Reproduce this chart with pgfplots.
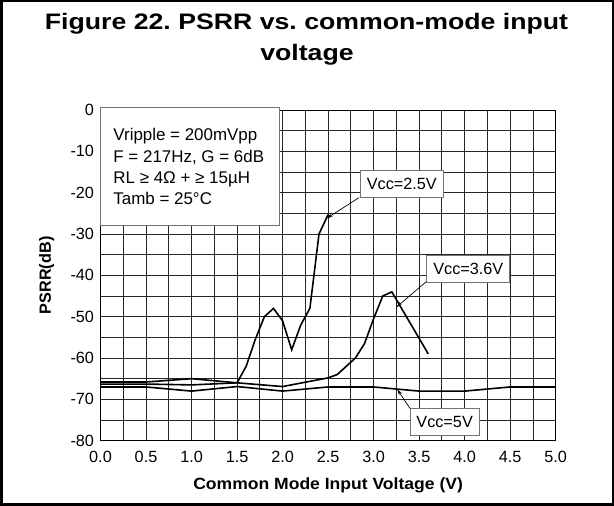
\documentclass[border=0pt]{standalone}
\usepackage{graphicx}
\usepackage{pgfplots}
\pgfplotsset{compat=1.18}
\usepackage{fontspec}
\setmainfont{Liberation Sans}
\usetikzlibrary{arrows.meta}
\frenchspacing
\tikzset{
  ann/.style={draw=black!55, fill=white, line width=0.8bp, font=\fontsize{16.3}{19}\selectfont, inner xsep=6.5bp, minimum height=27bp},
  arr/.style={-{Stealth[length=6bp,width=3.5bp]}, line width=0.7bp, black},
  crv/.style={black, line width=1.6bp, mark=none},
}

\begin{document}
\begin{tikzpicture}
\path (0,0) rectangle (614bp,506bp);
\draw[line width=2bp] (1.5bp,1.5bp) rectangle (612.5bp,504.5bp);
\node[anchor=base, inner sep=0pt, font=\fontsize{22.5}{28}\selectfont\bfseries] at (306.5bp,476bp) {\scalebox{1.19}[1]{Figure 22. PSRR vs. common-mode input}};
\node[anchor=base, inner sep=0pt, font=\fontsize{22.5}{28}\selectfont\bfseries] at (307bp,445bp) {\scalebox{1.19}[1]{voltage}};
\begin{axis}[
  at={(100.5bp,65.3bp)}, anchor=south west,
  scale only axis, width=455.2bp, height=330.7bp,
  xmin=0, xmax=5, ymin=-80, ymax=0,
  xtick={0,0.5,1,1.5,2,2.5,3,3.5,4,4.5,5},
  xticklabels={0.0,0.5,1.0,1.5,2.0,2.5,3.0,3.5,4.0,4.5,5.0},
  ytick={-80,-70,-60,-50,-40,-30,-20,-10,0},
  yticklabels={-80,-70,-60,-50,-40,-30,-20,-10,0},
  minor x tick num=1, minor y tick num=1,
  grid=both,
  major grid style={black!85, line width=0.85bp},
  minor grid style={black!85, line width=0.85bp},
  major tick length=0pt, minor tick length=0pt,
  axis line style={black, line width=1bp},
  tick label style={font=\fontsize{16.3}{19}\selectfont},
  xticklabel style={anchor=base, yshift=-21.3bp},
  yticklabel style={xshift=-3bp},
  xlabel={\scalebox{1.08}[1]{Common Mode Input Voltage (V)}},
  ylabel={PSRR(dB)},
  label style={font=\fontsize{16.3}{19}\selectfont\bfseries},
  xlabel style={at={(axis description cs:0.5,-0.149)}, anchor=base},
  ylabel style={at={(axis description cs:-0.118,0.5)}, anchor=center, rotate=0},
  clip=false,
]
% Vcc = 2.5 V
\addplot[crv] coordinates {(0,-65.8)(0.5,-65.8)(1.0,-65)(1.5,-66)(1.6,-62)(1.7,-55.5)(1.8,-50)(1.9,-48)(2.0,-51)(2.1,-58)(2.2,-52)(2.3,-48)(2.4,-30)(2.5,-25.3)};
% Vcc = 3.6 V
\addplot[crv] coordinates {(0,-66.3)(0.5,-66.3)(1.0,-66.5)(1.5,-66)(2.0,-66.9)(2.5,-64.8)(2.6,-64)(2.7,-62)(2.8,-60)(2.9,-56.5)(3.0,-50.5)(3.1,-45)(3.2,-44)(3.6,-59)};
% Vcc = 5 V
\addplot[crv] coordinates {(0,-67)(0.5,-67)(1.0,-68)(1.5,-66.9)(2.0,-68)(2.5,-67)(3.0,-67)(3.5,-68)(4.0,-68)(4.5,-67)(5.0,-67)};

% condition box
\draw[draw=black!55, fill=white, line width=0.8bp] (axis cs:0,0.7) rectangle (axis cs:1.97,-27.8);
\begin{scope}[every node/.style={anchor=base west, inner sep=0pt, font=\fontsize{17}{21}\selectfont}]
\node at (axis cs:0.14,-7.26) {Vripple = 200mVpp};
\node at (axis cs:0.14,-12.74) {F = 217Hz, G = 6dB};
\node at (axis cs:0.14,-17.7) {RL ≥ 4Ω + ≥ 15µH};
\node at (axis cs:0.14,-22.98) {Tamb = 25°C};
\end{scope}

% annotations
\draw[arr] (axis cs:2.84,-21.2) -- (axis cs:2.485,-26.2);
\node[ann] at (axis cs:3.31,-17.95) {Vcc=2.5V};
\draw[arr] (axis cs:3.58,-41.5) -- (axis cs:3.25,-47.7);
\node[ann] at (axis cs:4.04,-38.4) {Vcc=3.6V};
\draw[arr] (axis cs:3.40,-72.2) -- (axis cs:3.26,-67.6);
\node[ann] at (axis cs:3.78,-75.5) {Vcc=5V};
\end{axis}
\end{tikzpicture}
\end{document}
